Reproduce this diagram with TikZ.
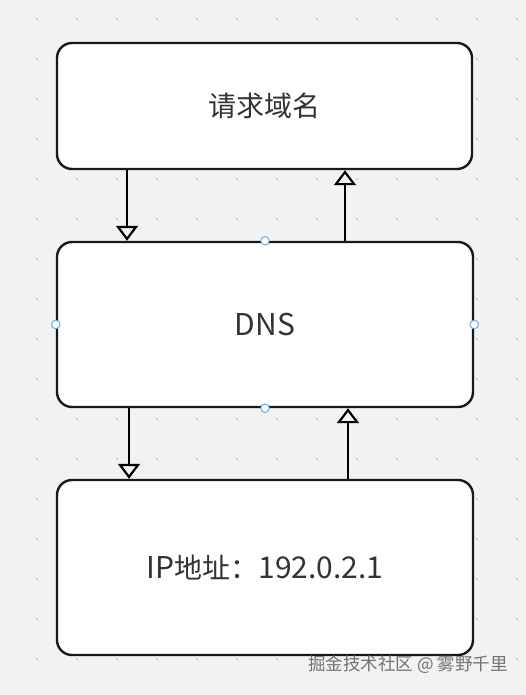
\documentclass[tikz,border=0pt]{standalone}
\usepackage{fontspec}
\setmainfont{Noto Sans CJK SC}
\usepackage{xcolor}
\usepackage{tikz}
\usetikzlibrary{arrows.meta, positioning}

\definecolor{canvas}{HTML}{F2F2F4}
\definecolor{griddot}{HTML}{C4C4CA}
\definecolor{handle}{HTML}{6FA8E8}
\definecolor{ink}{HTML}{333333}

\newcommand{\wideLatin}[1]{{\fontsize{30}{32}\selectfont #1}}

\tikzset{
  stagebox/.style={draw=black!90, line width=2.4pt, rounded corners=15pt, fill=white,
    text=ink, font=\fontsize{28}{30}\selectfont},
  flow/.style={line width=2.2pt, -{Triangle[open, length=15pt, width=22pt]}},
  grip/.style={circle, draw=handle, fill=white, line width=1pt, minimum size=8.5pt, inner sep=0pt}
}

\begin{document}
\begin{tikzpicture}[x=1pt, y=-1pt]
  \useasboundingbox[fill=canvas] (0,0) rectangle (526,695);

  % dotted grid
  \foreach \x in {37,77,...,517}
    \foreach \y in {19,59,...,699}
      \fill[griddot] (\x,\y) circle (1.2pt);

  \node[stagebox, minimum width=415pt, minimum height=126pt] (query) at (264.5,106) {请求域名};
  \node[stagebox, minimum width=416pt, minimum height=165pt] (dns) at (265,324.5) {\wideLatin{DNS}};
  \node[stagebox, minimum width=416pt, minimum height=175pt] (addr) at (265,567.5) {\wideLatin{IP}地址：\wideLatin{192.0.2.1}};

  % request / reply
  \draw[flow] ([xshift=-137.5pt]query.south) -- ([xshift=-138pt]dns.north);
  \draw[flow] ([xshift=80pt]dns.north) -- ([xshift=80.5pt]query.south);
  \draw[flow] ([xshift=-136pt]dns.south) -- ([xshift=-136pt]addr.north);
  \draw[flow] ([xshift=83pt]addr.north) -- ([xshift=83pt]dns.south);

  % selection handles
  \foreach \side in {north, south, west, east}
    \node[grip] (grip-\side) at (dns.\side) {};

  \node[text=black!55, font=\fontsize{17.5}{19}\selectfont] (mark) at (408,665) {掘金技术社区 @ 雾野千里};
\end{tikzpicture}
\end{document}
